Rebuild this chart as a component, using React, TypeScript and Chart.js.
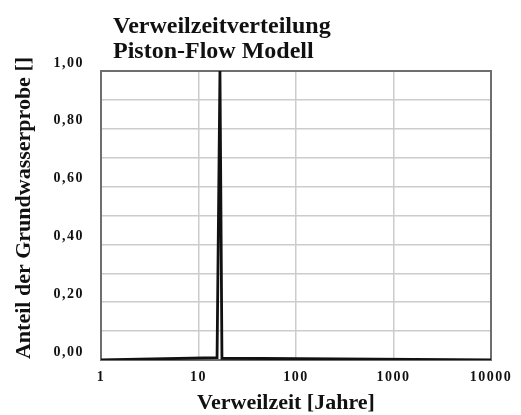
import React, { useEffect, useRef } from "react";
import { Chart, registerables } from "chart.js";

Chart.register(...registerables);

const titleLines = ["Verweilzeitverteilung", "Piston-Flow Modell"];
const xAxisTitle = "Verweilzeit [Jahre]";
const yAxisTitle = "Anteil der Grundwasserprobe []";
const xTicks = [1, 10, 100, 1000, 10000];
const yLabelValues = [0, 0.2, 0.4, 0.6, 0.8, 1.0];
const residenceTime = [1, 15.5, 16.6, 17.4, 10000];
const fraction = [0, 0.008, 1.0, 0.006, 0];

const FONT = "'Liberation Serif', 'DejaVu Serif', serif";

export default function App() {
  const ref = useRef<HTMLCanvasElement | null>(null);
  useEffect(() => {
    document.body.style.margin = "0";
    const canvas = ref.current!;
    const spacingPlugin = {
      id: "spacing",
      beforeDraw(chart: any) {
        (chart.ctx as any).letterSpacing = "1.5px";
      },
      afterDraw(chart: any) {
        (chart.ctx as any).letterSpacing = "0px";
      },
    };
    const textPlugin = {
      id: "titleText",
      afterDraw(chart: any) {
        const { ctx, chartArea } = chart;
        ctx.save();
        (ctx as any).letterSpacing = "0px";
        ctx.fillStyle = "#111";
        ctx.textBaseline = "alphabetic";
        ctx.textAlign = "left";
        ctx.font = `bold 24px ${FONT}`;
        ctx.fillText(titleLines[0], chartArea.left + 12, 33);
        ctx.fillText(titleLines[1], chartArea.left + 12, 58);
        ctx.font = `bold 22px ${FONT}`;
        ctx.textAlign = "center";
        ctx.fillText(xAxisTitle, 286, 409);
        ctx.translate(30, 208);
        ctx.rotate(-Math.PI / 2);
        ctx.fillText(yAxisTitle, 0, 0);
        ctx.restore();
      },
    };
    const framePlugin = {
      id: "frame",
      beforeDatasetsDraw(chart: any) {
        const { ctx, chartArea } = chart;
        ctx.save();
        ctx.strokeStyle = "#6e6e6e";
        ctx.lineWidth = 2;
        ctx.strokeRect(
          chartArea.left,
          chartArea.top,
          chartArea.right - chartArea.left,
          chartArea.bottom - chartArea.top
        );
        ctx.restore();
      },
    };
    const chart = new Chart(canvas, {
      type: "line",
      data: {
        datasets: [
          {
            data: residenceTime.map((x, i) => ({ x, y: fraction[i] })),
            borderColor: "#111",
            borderWidth: 2.8,
            pointRadius: 0,
            tension: 0,
            fill: false,
          },
        ],
      },
      options: {
        animation: false,
        responsive: false,
        layout: { padding: { left: 10, right: 30, top: 71, bottom: 0 } },
        plugins: { legend: { display: false }, tooltip: { enabled: false } },
        scales: {
          x: {
            type: "logarithmic",
            min: 1,
            max: 10000,
            afterBuildTicks(scale: any) {
              scale.ticks = xTicks.map((v) => ({ value: v }));
            },
            afterFit(scale: any) {
              scale.height = 55;
            },
            grid: { color: "#cccccc", lineWidth: 1.5, drawTicks: false },
            border: { display: false },
            ticks: {
              color: "#111",
              font: { family: FONT, weight: "bold", size: 14 },
              padding: 9,
              maxRotation: 0,
              autoSkip: false,
              callback: (v: any) => String(v),
            },
          },
          y: {
            min: 0,
            max: 1,
            afterFit(scale: any) {
              scale.width = 91;
            },
            grid: { color: "#cccccc", lineWidth: 1.5, drawTicks: false },
            border: { display: false },
            ticks: {
              stepSize: 0.1,
              color: "#111",
              font: { family: FONT, weight: "bold", size: 14 },
              padding: 17,
              labelOffset: -8,
              autoSkip: false,
              callback: (v: any) => {
                const n = Math.round(Number(v) * 10);
                const match = yLabelValues.find((y) => Math.round(y * 10) === n);
                if (match === undefined) return "";
                return match.toFixed(2).replace(".", ",");
              },
            },
          },
        },
      },
      plugins: [spacingPlugin, framePlugin, textPlugin],
    });
    return () => chart.destroy();
  }, []);
  return (
    <div style={{ width: 521, height: 415, background: "#fff" }}>
      <canvas ref={ref} width={521} height={415} />
    </div>
  );
}
